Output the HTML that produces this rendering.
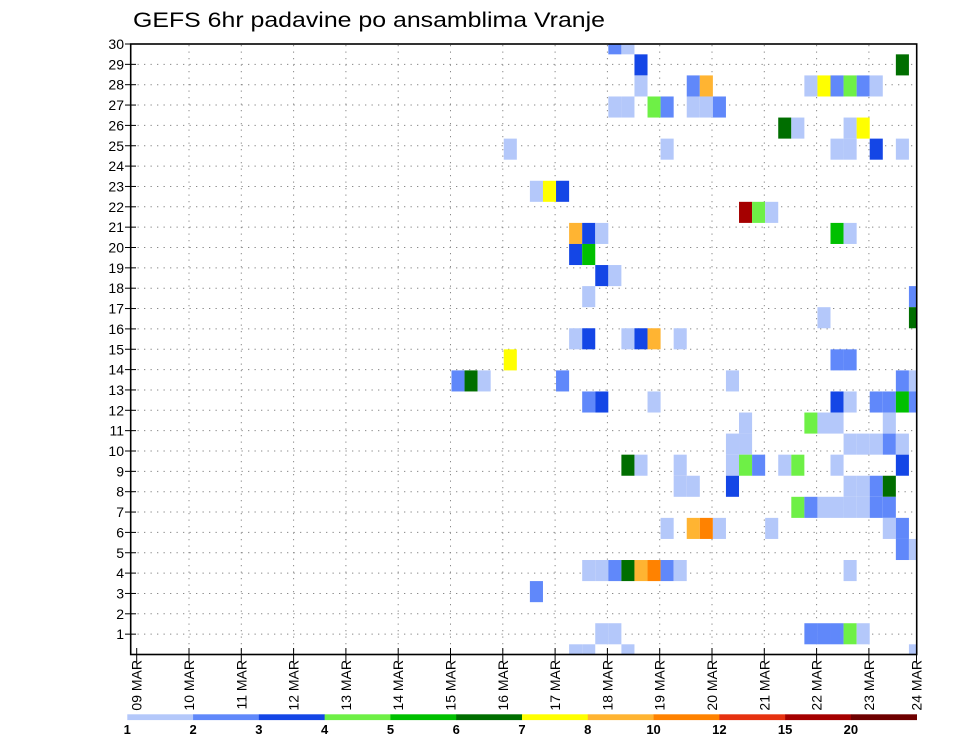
<!DOCTYPE html>
<html><head><meta charset="utf-8"><style>
html,body{margin:0;padding:0;background:#fff;}
svg{display:block;font-family:"Liberation Sans",sans-serif;}
</style></head><body>
<svg id="chart" width="960" height="742" viewBox="0 0 960 742" xmlns="http://www.w3.org/2000/svg">
<rect x="0" y="0" width="960" height="742" fill="#fff"/>
<text x="133" y="27" font-size="21" textLength="472" lengthAdjust="spacingAndGlyphs" fill="#000">GEFS 6hr padavine po ansamblima Vranje</text>
<defs><clipPath id="plotclip"><rect x="130.7" y="44" width="786" height="610.5"/></clipPath></defs>
<g id="grid"></g>
<g id="cells" clip-path="url(#plotclip)"></g>
<rect x="130.7" y="44" width="786" height="610.5" fill="none" stroke="#000" stroke-width="1.6"/>
<g id="yaxis"></g>
<g id="xaxis"></g>
<g id="legend"></g>
</svg>
<script>
// data
const dayLabels = ["09 MAR","10 MAR","11 MAR","12 MAR","13 MAR","14 MAR","15 MAR","16 MAR","17 MAR","18 MAR","19 MAR","20 MAR","21 MAR","22 MAR","23 MAR","24 MAR"];
const yTicks = [1,2,3,4,5,6,7,8,9,10,11,12,13,14,15,16,17,18,19,20,21,22,23,24,25,26,27,28,29,30];
const levelLabels = ["1","2","3","4","5","6","7","8","10","12","15","20"];
const levelColors = ["#b4c8fa","#6088fa","#1446e6","#6ef046","#00c000","#006e00","#ffff00","#ffb432","#ff8200","#e63210","#a50000","#6e0000"];
// cells: member row index (0 = bottom), 6h time index (0 = 09 MAR 00z), colour class (1..12)
const cellMember = [29,29, 28,28, 27,27,27,27,27,27,27,27,27, 26,26,26,26,26,26,26, 25,25,25,25, 24,24,24,24,24,24, 22,22,22, 21,21,21, 20,20,20,20,20, 19,19, 18,18, 17,17, 16,16, 15,15,15,15,15,15, 14,14,14, 13,13,13,13,13,13,13, 12,12,12,12,12,12,12,12,12, 11,11,11,11,11, 10,10,10,10,10,10,10, 9,9,9,9,9,9,9,9,9,9, 8,8,8,8,8,8,8, 7,7,7,7,7,7,7,7, 6,6,6,6,6,6,6, 5,5, 4,4,4,4,4,4,4,4,4, 3, 1,1,1,1,1,1,1, 0,0,0,0];
const cellTime   = [36,37, 38,58, 38,42,43,51,52,53,54,55,56, 36,37,39,40,42,43,44, 49,50,54,55, 28,40,53,54,56,58, 30,31,32, 46,47,48, 33,34,35,53,54, 33,34, 35,36, 34,59, 52,59, 33,34,37,38,39,41, 28,53,54, 24,25,26,32,45,58,59, 34,35,39,53,54,56,57,58,59, 46,51,52,53,57, 45,46,54,55,56,57,58, 37,38,41,45,46,47,49,50,53,58, 41,42,45,54,55,56,57, 50,51,52,53,54,55,56,57, 40,42,43,44,48,57,58, 58,59, 34,35,36,37,38,39,40,41,54, 30, 35,36,51,52,53,54,55, 33,34,37,59];
const cellLevel  = [2,1, 3,6, 1,2,8,1,7,2,4,2,1, 1,1,4,2,1,1,2, 6,1,1,7, 1,1,1,1,3,1, 1,7,3, 11,4,1, 8,3,1,5,1, 3,5, 3,1, 1,2, 1,6, 1,3,1,3,8,1, 7,2,2, 2,6,1,2,1,2,1, 2,3,1,3,1,2,2,5,2, 1,4,1,1,1, 1,1,1,1,1,2,1, 6,1,1,1,4,2,1,4,1,3, 1,1,3,1,1,2,6, 4,2,1,1,1,1,2,2, 1,8,9,1,1,1,2, 2,1, 1,1,2,6,8,9,2,1,1, 2, 1,1,2,2,2,4,1, 1,1,1,1];

const NS="http://www.w3.org/2000/svg";
function mk(tag, attrs, parent){const e=document.createElementNS(NS,tag);for(const k in attrs)e.setAttribute(k,attrs[k]);parent.appendChild(e);return e;}
// axis functions
const xDay = d => 136.7 + 52.3*d;
const xCell = t => 137.8 + 13.07*t;
const cellW = 13.07;
const yVal = v => 654.5 - 20.35*v;
const yCellTop = m => 644.3 - 21.07*m;
const cellH = 21.07;

const grid=document.getElementById('grid');
yTicks.forEach(v=>{
  const l=mk('line',{x1:131,x2:916,y1:yVal(v),y2:yVal(v),stroke:'#888','stroke-width':1,'stroke-dasharray':'1.3 5.2'},grid);
  
  
});
dayLabels.forEach((d,i)=>{
  if(i===0||i===dayLabels.length-1) return;
  const l=mk('line',{x1:xDay(i),x2:xDay(i),y1:45,y2:654,stroke:'#888','stroke-width':1,'stroke-dasharray':'1.3 5.2'},grid);
  
  
});

const cells=document.getElementById('cells');
for(let i=0;i<cellMember.length;i++){
  const r=mk('rect',{x:xCell(cellTime[i]),y:yCellTop(cellMember[i]),width:cellW,height:cellH,fill:levelColors[cellLevel[i]-1]},cells);
  
  
}

const ya=document.getElementById('yaxis');
yTicks.forEach(v=>{
  const t=mk('line',{x1:125,x2:136,y1:yVal(v),y2:yVal(v),stroke:'#000','stroke-width':1},ya);
  
  
  const tx=mk('text',{x:124,y:yVal(v)+5,'font-size':14,'text-anchor':'end',fill:'#000'},ya);
  tx.textContent=String(v);
  
  
});

const xa=document.getElementById('xaxis');
dayLabels.forEach((d,i)=>{
  const x=Math.min(xDay(i),916.5);
  const t=mk('line',{x1:x,x2:x,y1:648,y2:662,stroke:'#000','stroke-width':1},xa);
  
  
  const tx=mk('text',{x:0,y:0,'font-size':14,'text-anchor':'end',fill:'#000',transform:'translate('+(x+5)+',660) rotate(-90)'},xa);
  tx.textContent=d;
  
  
});

const lg=document.getElementById('legend');
const lx0=127.3, lw=(916.7-127.3)/levelColors.length;
levelColors.forEach((c,i)=>{
  const r=mk('rect',{x:lx0+i*lw,y:714.3,width:lw+0.3,height:5.8,fill:c},lg);
  
  
});
levelLabels.forEach((s,i)=>{
  const tx=mk('text',{x:lx0+i*lw,y:734,'font-size':13,'font-weight':'bold','text-anchor':'middle',fill:'#000'},lg);
  tx.textContent=s;
  
  
});
</script>
</body></html>
